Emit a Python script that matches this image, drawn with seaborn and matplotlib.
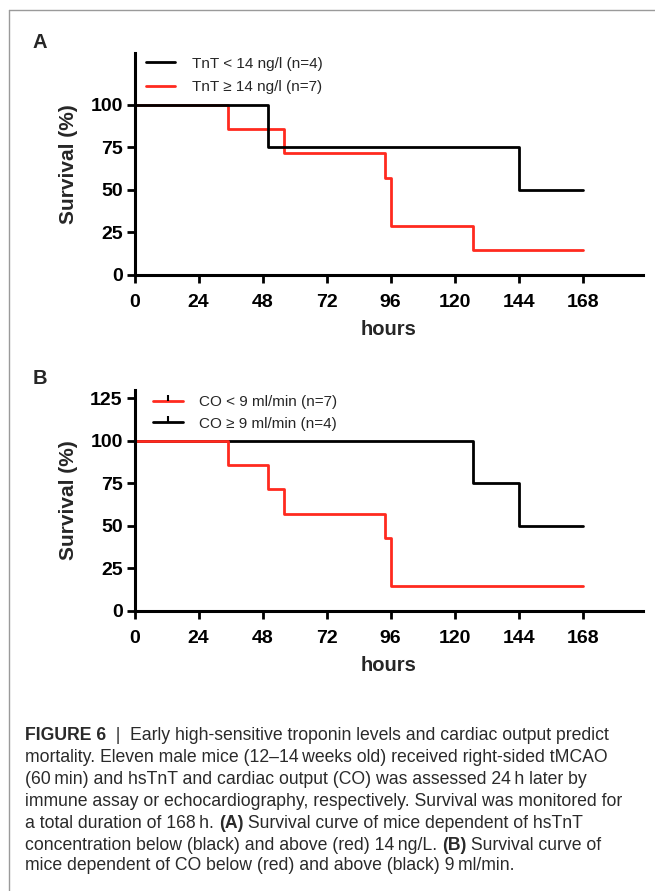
import matplotlib
matplotlib.use("Agg")
import pandas as pd
import seaborn as sns
from matplotlib import pyplot as plt
from matplotlib.lines import Line2D

# Panel A: hsTnT groups (time in hours, survival in %)
a_low_t = [0, 50, 144, 168]
a_low_s = [100, 75, 50, 50]
a_high_t = [0, 35, 56, 94, 96, 127, 168]
a_high_s = [100, 85.7, 71.4, 57.1, 28.6, 14.3, 14.3]
a_labels = ["TnT < 14 ng/l (n=4)", "TnT \u2265 14 ng/l (n=7)"]

# Panel B: cardiac output groups
b_low_t = [0, 35, 50, 56, 94, 96, 168]
b_low_s = [100, 85.7, 71.4, 57.1, 42.9, 14.3, 14.3]
b_high_t = [0, 127, 144, 168]
b_high_s = [100, 75, 50, 50]
b_labels = ["CO < 9 ml/min (n=7)", "CO \u2265 9 ml/min (n=4)"]

x_ticks = [0, 24, 48, 72, 96, 120, 144, 168]
a_yticks = [0, 25, 50, 75, 100]
b_yticks = [0, 25, 50, 75, 100, 125]

RED = "#ff2a1f"
BLACK = "#000000"

sns.set_theme(style="ticks")
plt.rcParams["font.family"] = ["Liberation Sans", "DejaVu Sans"]

fig = plt.figure(figsize=(6.55, 8.91), dpi=100)
W, H = 655, 891


def px_axes(left, top, right, bottom):
    return fig.add_axes([left / W, 1 - bottom / H, (right - left) / W, (bottom - top) / H])


def curve(ax, t, s, color):
    df = pd.DataFrame({"hours": t, "survival": s})
    sns.lineplot(data=df, x="hours", y="survival", ax=ax, color=color,
                 drawstyle="steps-post", estimator=None, sort=False, lw=2.0)


def style(ax, yticks, ymax):
    ax.set_xlim(0, 190.7)
    ax.set_ylim(0, ymax)
    ax.set_xticks(x_ticks)
    ax.set_yticks(yticks)
    for side in ["top", "right"]:
        ax.spines[side].set_visible(False)
    for side in ["left", "bottom"]:
        ax.spines[side].set_linewidth(2.2)
        ax.spines[side].set_color("black")
    ax.tick_params(width=2.0, length=6, labelsize=14, colors="black")
    ax.tick_params(axis="x", pad=8)
    ax.tick_params(axis="y", pad=2.5)
    for lab in ax.get_xticklabels() + ax.get_yticklabels():
        lab.set_fontweight("bold")
    ax.set_xlabel("hours", fontsize=14.5, fontweight="bold")
    ax.set_ylabel("Survival (%)", fontsize=15, fontweight="bold")
    ax.xaxis.set_label_coords(0.5, -0.205)
    ax.yaxis.set_label_coords(-0.112, 0.5)
    ax.set_facecolor("none")


# Panel A
ax_a = px_axes(134.5, 53, 643.3, 274.5)
curve(ax_a, a_high_t, a_high_s, RED)
curve(ax_a, a_low_t, a_low_s, BLACK)
style(ax_a, a_yticks, 130.6)
h_a = [Line2D([], [], color=BLACK, lw=2.0), Line2D([], [], color=RED, lw=2.0)]
ax_a.legend(h_a, a_labels, loc="upper left", bbox_to_anchor=(-0.005, 1.045), frameon=False,
            fontsize=11, handlelength=1.95, handletextpad=1.05, labelspacing=0.6)

# Panel B
ax_b = px_axes(134.5, 390, 643.3, 610.5)
curve(ax_b, b_high_t, b_high_s, BLACK)
curve(ax_b, b_low_t, b_low_s, RED)
style(ax_b, b_yticks, 130)
h_b = [Line2D([], [], color=RED, lw=2.0, marker=2, ms=4, mec=BLACK, mew=1.5),
       Line2D([], [], color=BLACK, lw=2.0, marker=2, ms=4, mec=BLACK, mew=1.5)]
ax_b.legend(h_b, b_labels, loc="upper left", bbox_to_anchor=(0.01, 1.04), frameon=False,
            fontsize=11, handlelength=1.95, handletextpad=1.05, labelspacing=0.5,
            numpoints=1)

# panel letters
fig.text(40 / W, 1 - 43 / H, "A", fontsize=14.5, fontweight="bold", ha="center", va="center")
fig.text(40 / W, 1 - 378 / H, "B", fontsize=14.5, fontweight="bold", ha="center", va="center")

# frame lines
fig.add_artist(Line2D([9 / W, 9 / W], [0, 1 - 10 / H], transform=fig.transFigure,
                      color="#9a9a9a", lw=1.0))
fig.add_artist(Line2D([9 / W, 1], [1 - 10 / H, 1 - 10 / H], transform=fig.transFigure,
                      color="#9a9a9a", lw=1.0))

# caption
caption = [
    [("FIGURE 6", True), ("  |  ", False), ("Early high-sensitive troponin levels and cardiac output predict", False)],
    [("mortality. Eleven male mice (12\u201314\u2009weeks old) received right-sided tMCAO", False)],
    [("(60\u2009min) and hsTnT and cardiac output (CO) was assessed 24\u2009h later by", False)],
    [("immune assay or echocardiography, respectively. Survival was monitored for", False)],
    [("a total duration of 168\u2009h. ", False), ("(A)", True), (" Survival curve of mice dependent of hsTnT", False)],
    [("concentration below (black) and above (red) 14\u2009ng/L. ", False), ("(B)", True), (" Survival curve of", False)],
    [("mice dependent of CO below (red) and above (black) 9\u2009ml/min.", False)],
]
cap_y = [736, 758, 780, 801, 823, 845, 866]

renderer = fig.canvas.get_renderer()
for line, y in zip(caption, cap_y):
    x = 25
    for txt, bold in line:
        t = fig.text(x / W, 1 - y / H, txt, fontsize=12.7, ha="left", va="center",
                     fontweight="bold" if bold else "normal", color="#2a2a2a")
        bb = t.get_window_extent(renderer=renderer)
        x += bb.width

fig.savefig("out.png", dpi=100)
